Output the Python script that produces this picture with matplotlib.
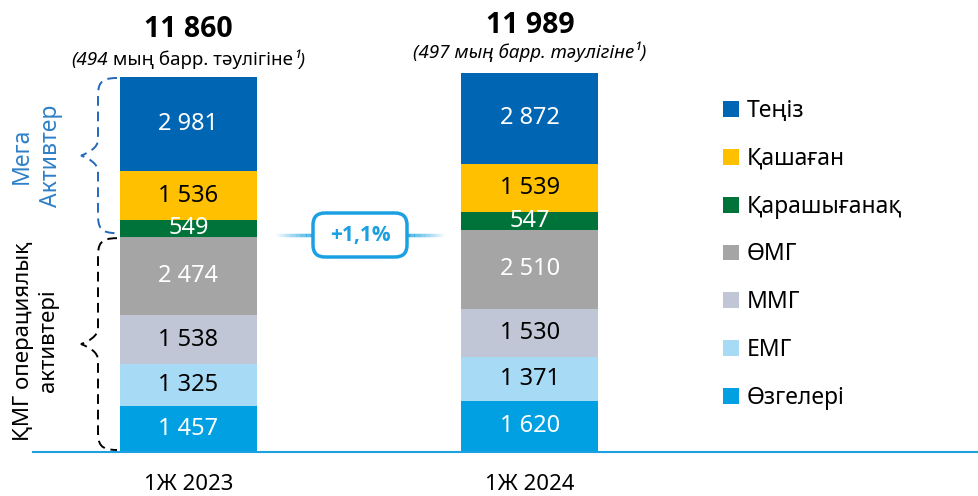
import matplotlib.pyplot as plt
import numpy as np
from matplotlib.patches import FancyBboxPatch, Patch, PathPatch
from matplotlib.path import Path
from matplotlib.collections import LineCollection
from matplotlib.transforms import Affine2D

plt.rcParams['font.family'] = ['Noto Sans', 'DejaVu Sans']
BOLD = ['Open Sans', 'Liberation Sans', 'DejaVu Sans']

# data
periods = ['1Ж 2023', '1Ж 2024']
series = ['Теңіз', 'Қашаған', 'Қарашығанақ', 'ӨМГ', 'ММГ', 'ЕМГ', 'Өзгелері']
tengiz = [2981, 2872]
kashagan = [1536, 1539]
karachaganak = [549, 547]
omg = [2474, 2510]
mmg = [1538, 1530]
emg = [1325, 1371]
other = [1457, 1620]
totals = [11860, 11989]
per_day = ['494', '497']
growth = '+1,1%'

colors = ['#0066B3', '#FFC000', '#00733A', '#A5A5A5', '#C0C6D6', '#A7DAF5', '#00A0E3']
text_colors = ['white', 'black', 'white', 'white', 'black', 'black', 'white']
values = [tengiz, kashagan, karachaganak, omg, mmg, emg, other]

W, H = 979, 496
fig = plt.figure(figsize=(W / 100, H / 100), dpi=100)
ax = fig.add_axes([0, 0, 1, 1])
ax.set_xlim(-0.552, 2.315)
ax.set_ylim(-1392, 14295)
ax.axis('off')

# pixel coordinates, origin top-left
px = Affine2D().scale(1 / W, -1 / H).translate(0, 1) + fig.transFigure

x = np.arange(len(periods))
width = 0.401

# stack from bottom (Өзгелері) to top (Теңіз)
bottom = np.zeros(len(periods))
for name, vals, col, tc in reversed(list(zip(series, values, colors, text_colors))):
    vals = np.array(vals, dtype=float)
    ax.bar(x, vals, width, bottom=bottom, color=col, label=name)
    for xi, b, v in zip(x, bottom, vals):
        ax.text(xi, b + v / 2, f'{int(v):,}'.replace(',', ' '), ha='center', va='center',
                color=tc, fontsize=17)
    bottom += vals

# baseline
ax.axhline(0, xmin=33 / W, xmax=1, color='#1BA1E2', lw=1.5)

# x labels
for xi, p in zip(x, periods):
    ax.annotate(p, xy=(xi, 0), xytext=(0, -33), textcoords='offset pixels',
                ha='center', va='center', fontsize=16)

# totals + per day
fig.canvas.draw()
renderer = fig.canvas.get_renderer()
sub_off = [17, 21]
for i, (xi, t) in enumerate(zip(x, totals)):
    ax.annotate(f'{t:,}'.replace(',', ' '), xy=(xi, t), xytext=(0, 47), textcoords='offset pixels',
                ha='center', va='center', fontsize=20.5, fontweight='bold', family=BOLD)
    if i == 0:
        parts = [('(' + per_day[i], 'italic'), (' мың барр. тәулігіне', 'normal'), ('¹)', 'italic')]
    else:
        parts = [('(' + per_day[i] + ' мың барр. тәулігіне¹)', 'italic')]
    arts = []
    for s, st in parts:
        a = ax.annotate(s, xy=(xi, t), xytext=(0, sub_off[i]), textcoords='offset pixels',
                        ha='left', va='center', fontsize=13.5, style=st)
        arts.append(a)
    widths = [a.get_window_extent(renderer).width for a in arts]
    off = -sum(widths) / 2
    for a, w in zip(arts, widths):
        a.set_position((off, sub_off[i]))
        off += w

# braces
def to_px(xd, yd):
    return px.inverted().transform(ax.transData.transform((xd, yd)))

def brace(y_top, y_bot, color, x_end=117, x_mid=98, x_tip=81, r=19, rt=16):
    ym = (y_top + y_bot) / 2
    verts = [(x_end, y_top),
             (x_mid + 2, y_top), (x_mid, y_top + 6), (x_mid, y_top + r),
             (x_mid, ym - rt),
             (x_mid, ym - 8), (x_tip + 8, ym - 3), (x_tip, ym),
             (x_tip + 8, ym + 3), (x_mid, ym + 8), (x_mid, ym + rt),
             (x_mid, y_bot - r),
             (x_mid, y_bot - 6), (x_mid + 2, y_bot), (x_end, y_bot)]
    codes = [Path.MOVETO] + [Path.CURVE4] * 3 + [Path.LINETO] + [Path.CURVE4] * 6 + \
            [Path.LINETO] + [Path.CURVE4] * 3
    ax.add_patch(PathPatch(Path(verts, codes), fill=False, edgecolor=color, lw=1.4,
                           linestyle=(0, (5, 3)), transform=px, clip_on=False))

ops_top = sum(v[0] for v in values[3:])
brace(to_px(0, totals[0])[1] + 1, to_px(0, ops_top)[1] - 4, '#2468BC')
brace(to_px(0, ops_top)[1] + 1, to_px(0, 0)[1] - 2, 'black')

ax.text(36, 156, 'Мега\nАктивтер', rotation=90, ha='center', va='center', multialignment='center',
        color='#2F80C8', fontsize=16.5, linespacing=1.3, transform=px)
ax.text(36, 341, 'ҚМГ операциялық\nактивтері', rotation=90, ha='center', va='center',
        multialignment='center', color='black', fontsize=16, linespacing=1.3, transform=px)

# growth box
gcol = np.array([27, 161, 226]) / 255
n = 30
for xa, xb, rev in [(275, 313, False), (407, 445, True)]:
    xs = np.linspace(xa, xb, n + 1)
    segs = [[(xs[k], 235), (xs[k + 1], 235)] for k in range(n)]
    al = np.linspace(0, 1, n)
    if rev:
        al = al[::-1]
    cols = [(*gcol, a) for a in al]
    ax.add_collection(LineCollection(segs, colors=cols, linewidths=2.5, transform=px))
ax.add_patch(FancyBboxPatch((313, 213), 94, 44, boxstyle='round,pad=0,rounding_size=12',
                            facecolor='white', edgecolor='#1BA1E2', lw=2.5, transform=px))
ax.text(360, 236, growth, ha='center', va='center', color='#1BA1E2', fontsize=15,
        fontweight='bold', family=BOLD, transform=px)

# legend
handles = [Patch(facecolor=c, label=s) for s, c in zip(series, colors)]
ax.legend(handles=handles, loc='upper left', bbox_to_anchor=(723 / W, 1 - 99 / H),
          bbox_transform=fig.transFigure, frameon=False, fontsize=16.5, handlelength=0.68,
          handleheight=0.68, handletextpad=0.35, labelspacing=1.04, borderpad=0, borderaxespad=0)

fig.savefig('out.png', dpi=100)
